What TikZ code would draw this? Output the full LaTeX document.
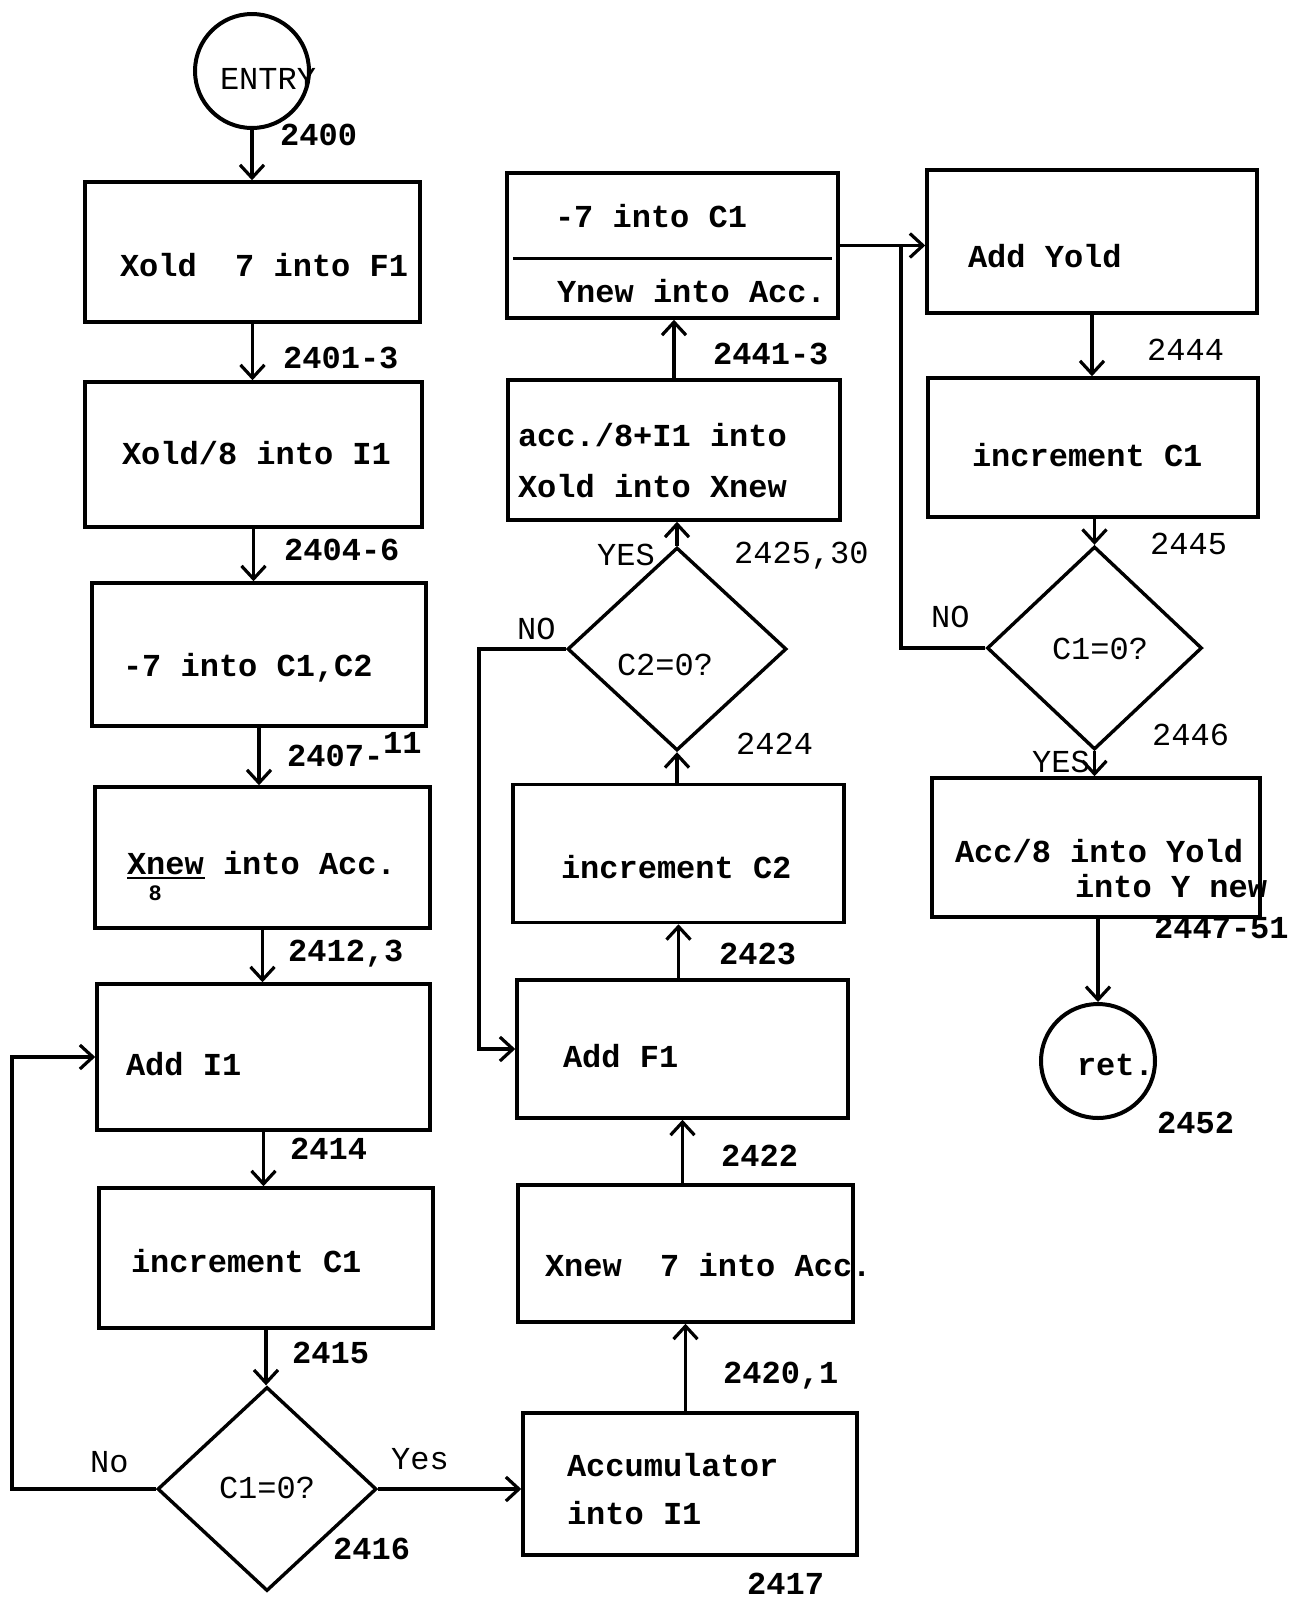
\documentclass[tikz,border=0pt]{standalone}
\usepackage{fontspec}
\usetikzlibrary{shapes.geometric,arrows.meta}
\newfontfamily\tw{Liberation Mono}
\newcommand{\twb}{\tw\bfseries\fontsize{32}{38}\selectfont}
\newcommand{\twr}{\tw\fontsize{32}{38}\selectfont}
\newcommand{\placetxt}[3]{\raisebox{-#2pt}[0pt][0pt]{\makebox[0pt][l]{\hspace*{-#1pt}#3}}}
\begin{document}
\begin{tikzpicture}[x=1pt,y=-1pt,
  box/.style={draw, rectangle, line width=3.5pt, inner sep=0pt, font=\twb},
  dia/.style={draw, diamond, line width=3.4pt, inner sep=0pt, font=\twr},
  term/.style={draw, circle, line width=4pt, inner sep=0pt},
  lbl/.style={anchor=base west, inner sep=0pt, font=\twb},
  lbll/.style={anchor=base west, inner sep=0pt, font=\twr},
  arr/.style={line width=3.2pt, -{Straight Barb[length=13pt,width=24pt]}},
  con/.style={line width=3.2pt}]
\fill[white] (0,0) rectangle (1295,1599);
\useasboundingbox (0,0) rectangle (1295,1599);

% column 1
\node[term, minimum size=114pt, font=\twr] (entry) at (252,71) {\placetxt{32}{18}{ENTRY}};
\node[box, minimum width=335pt, minimum height=140pt] (b1) at (252.5,252) {\placetxt{132.5}{24}{Xold\ \ 7 into F1}};
\node[box, minimum width=337pt, minimum height=145pt] (b2) at (253.5,454.5) {\placetxt{131.5}{9.5}{Xold/8 into I1}};
\node[box, minimum width=334pt, minimum height=143pt] (b3) at (259,654.5) {\placetxt{136}{21.5}{-7 into C1,C2}};
\node[box, minimum width=335pt, minimum height=141pt] (b4) at (262.5,857.5) {\placetxt{135.5}{16.5}{\rlap{\rule[-5pt]{78pt}{2.5pt}}Xnew into Acc.}\placetxt{114}{43}{\fontsize{22}{22}\selectfont 8}};
\node[box, minimum width=333pt, minimum height=146pt] (b5) at (263.5,1057) {\placetxt{137.5}{18}{Add I1}};
\node[box, minimum width=334pt, minimum height=140pt] (b6) at (266,1258) {\placetxt{135}{14}{increment C1}};
\node[dia, minimum width=219pt, minimum height=204pt] (d1) at (267,1489) {\placetxt{48}{9}{C1=0?}};

% column 2
\node[box, minimum width=334pt, minimum height=142pt] (acc) at (690,1484) {\placetxt{123}{-8}{Accumulator}\placetxt{123}{40}{into I1}};
\node[box, minimum width=335pt, minimum height=137pt] (xn) at (685.5,1253.5) {\placetxt{140.5}{22.5}{Xnew\ \ 7 into Acc.}};
\node[box, minimum width=331pt, minimum height=138pt] (af) at (682.5,1049) {\placetxt{119.5}{18}{Add F1}};
\node[box, minimum width=331pt, minimum height=138pt] (ic2) at (678.5,853.5) {\placetxt{117.5}{25}{increment C2}};
\node[dia, minimum width=219pt, minimum height=203pt] (d2) at (677,649) {\placetxt{60}{26}{C2=0?}};
\node[box, minimum width=332pt, minimum height=140pt] (ax) at (674,450) {\placetxt{156}{-4}{acc./8+I1 into}\placetxt{156}{47}{Xold into Xnew}};
\node[box, minimum width=331pt, minimum height=145pt] (m1) at (672.5,245.5) {\placetxt{117.5}{-18.5}{-7 into C1}\placetxt{115.5}{56.5}{Ynew into Acc.}};
\draw[line width=3pt] ([xshift=8pt,yshift=-12.5pt]m1.west) -- ([xshift=-8pt,yshift=-12.5pt]m1.east);

% column 3
\node[box, minimum width=330pt, minimum height=143pt] (ay) at (1092,241.5) {\placetxt{124}{25.5}{Add Yold}};
\node[box, minimum width=330pt, minimum height=139pt] (ic1) at (1093,447.5) {\placetxt{121}{18.5}{increment C1}};
\node[dia, minimum width=215pt, minimum height=203pt] (d3) at (1094.5,648) {\placetxt{42.5}{11}{C1=0?}};
\node[box, minimum width=328pt, minimum height=139pt] (ay2) at (1096,847.5) {\placetxt{141}{14.5}{Acc/8 into Yold}\placetxt{21}{49.5}{into Y new}};
\node[term, minimum size=114pt, font=\twb] (ret) at (1098,1061) {\placetxt{21}{14}{ret.}};

% labels
\node[lbl] (l2400) at (280,145) {2400};
\node[lbl] (l2401) at (283,368) {2401-3};
\node[lbl] (l2404) at (284,560) {2404-6};
\node[lbl] (l2407) at (287,766) {2407-\raisebox{13pt}{11}};
\node[lbl] (l2412) at (288,961) {2412,3};
\node[lbl] (l2414) at (290,1159) {2414};
\node[lbl] (l2415) at (292,1363) {2415};
\node[lbl] (l2416) at (333,1559) {2416};
\node[lbll] (lno1) at (90,1472) {No};
\node[lbll] (lyes1) at (391,1469) {Yes};
\node[lbl] (l2417) at (747,1594) {2417};
\node[lbl] (l2420) at (723,1383) {2420,1};
\node[lbl] (l2422) at (721,1166) {2422};
\node[lbl] (l2423) at (719,964) {2423};
\node[lbll] (l2424) at (736,754) {2424};
\node[lbll] (lyes2) at (597,565) {YES};
\node[lbll] (l2425) at (734,563) {2425,30};
\node[lbll] (lno2) at (517,639) {NO};
\node[lbl] (l2441) at (713,364) {2441-3};
\node[lbll] (l2444) at (1147,360) {2444};
\node[lbll] (l2445) at (1150,554) {2445};
\node[lbll] (lno3) at (931,627) {NO};
\node[lbll] (l2446) at (1152,745) {2446};
\node[lbll] (lyes3) at (1032,772) {YES};
\node[lbl] (l2447) at (1154,938) {2447-51};
\node[lbl] (l2452) at (1157,1133) {2452};

% connectors
\draw[arr] (entry.south) -- (entry.south |- b1.north);
\draw[arr] (b1.south) -- (b1.south |- b2.north);
\draw[arr] (b2.south) -- (b2.south |- b3.north);
\draw[arr] (b3.south) -- (b3.south |- b4.north);
\draw[arr] (b4.south) -- (b4.south |- b5.north);
\draw[arr] (b5.south) -- (b5.south |- b6.north);
\draw[arr] (b6.south) -- (b6.south |- d1.north);
\coordinate (lp1) at (12,1489);
\draw[arr] (d1.west) -- (lp1) |- (b5.west);
\draw[arr] (d1.east) -- (d1.east -| acc.west);
\draw[arr] (xn.south |- acc.north) -- (xn.south);
\draw[arr] (af.south |- xn.north) -- (af.south);
\draw[arr] (ic2.south |- af.north) -- (ic2.south);
\draw[arr] (d2.south |- ic2.north) -- (d2.south);
\draw[arr] (d2.north) -- (d2.north |- ax.south);
\coordinate (lp2) at (479,649);
\draw[arr] (d2.west) -- (lp2) |- (af.west);
\draw[arr] (ax.north) -- (ax.north |- m1.south);
\draw[arr] (m1.east) -- (m1.east -| ay.west);
\coordinate (lp3) at (901,648);
\draw[con] (d3.west) -- (lp3) -- (lp3 |- m1.east);
\draw[arr] (ay.south) -- (ay.south |- ic1.north);
\draw[arr] (d3.north |- ic1.south) -- (d3.north);
\draw[arr] (d3.south) -- (d3.south |- ay2.north);
\draw[arr] (ret.north |- ay2.south) -- (ret.north);
\end{tikzpicture}
\end{document}
